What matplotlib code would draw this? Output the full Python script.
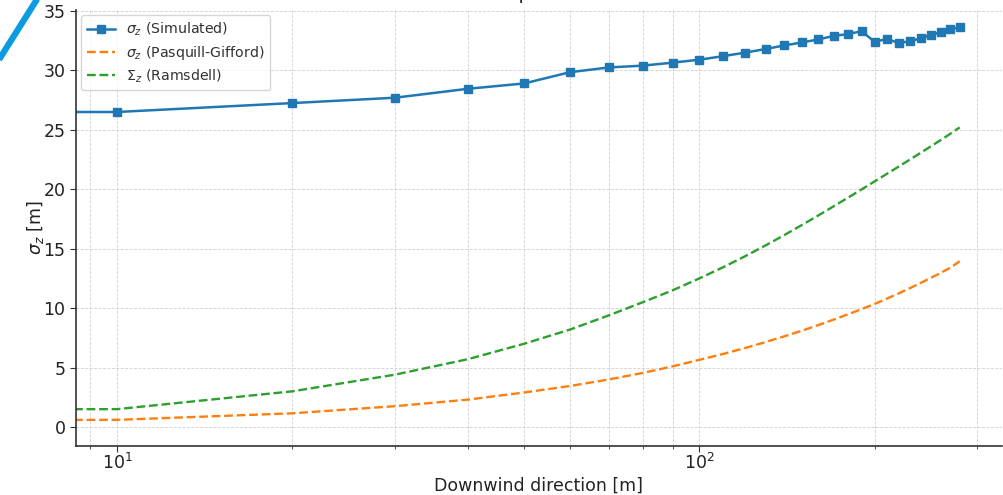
import matplotlib
matplotlib.use("Agg")
import matplotlib.pyplot as plt
from matplotlib.lines import Line2D

# Downwind distances [m] (first point 0 is clipped on the log axis)
distance = [0, 10, 20, 30, 40, 50, 60, 70, 80, 90, 100, 110, 120, 130, 140,
            150, 160, 170, 180, 190, 200, 210, 220, 230, 240, 250, 260, 270, 280]

sigma_sim = [26.5, 26.5, 27.25, 27.7, 28.45, 28.9, 29.85, 30.25, 30.4, 30.65,
             30.9, 31.2, 31.5, 31.8, 32.1, 32.35, 32.6, 32.9, 33.05, 33.3,
             32.4, 32.65, 32.3, 32.45, 32.7, 33.0, 33.2, 33.45, 33.65]

sigma_pg = [0.6, 0.6, 1.15, 1.75, 2.3, 2.9, 3.45, 4.0, 4.55, 5.1,
            5.65, 6.15, 6.65, 7.15, 7.63, 8.1, 8.57, 9.03, 9.48, 9.92,
            10.35, 10.8, 11.24, 11.68, 12.12, 12.55, 12.98, 13.4, 13.95]

sigma_rams = [1.5, 1.5, 3.0, 4.4, 5.7, 7.0, 8.2, 9.4, 10.5, 11.5,
              12.5, 13.45, 14.38, 15.28, 16.15, 16.99, 17.79, 18.56, 19.29, 19.99,
              20.66, 21.3, 21.91, 22.5, 23.07, 23.62, 24.15, 24.68, 25.2]

labels = [r"$\sigma_z$ (Simulated)", r"$\sigma_z$ (Pasquill-Gifford)",
          r"$\Sigma_z$ (Ramsdell)"]

plt.rcParams['font.family'] = ['DejaVu Sans']
fig = plt.figure(figsize=(10.04, 4.95), dpi=100)
ax = fig.add_axes([76/1004, 1-446/495, (1002-76)/1004, (446-10)/495])

ax.plot(distance, sigma_sim, color="#1f77b4", marker="s", markersize=6,
        linewidth=1.8, label=labels[0])
ax.plot(distance, sigma_pg, color="#ff7f0e", linestyle="--", linewidth=1.7,
        label=labels[1])
ax.plot(distance, sigma_rams, color="#2ca02c", linestyle="--", linewidth=1.7,
        label=labels[2])

ax.set_xscale("log")
ax.set_xlim(8.5, 331)
ax.set_ylim(-1.6, 35.08)
ax.set_yticks([0, 5, 10, 15, 20, 25, 30, 35])

ax.grid(True, which="both", linestyle="--", linewidth=0.6, color="#cccccc", alpha=0.9)
for s in ["top", "right"]:
    ax.spines[s].set_visible(False)
for s in ["left", "bottom"]:
    ax.spines[s].set_color("#333333")
    ax.spines[s].set_linewidth(1.2)
ax.tick_params(axis="both", which="major", labelsize=12.5, colors="#333333",
               labelcolor="#222222", length=4)
ax.tick_params(axis="x", which="major", pad=0.8)
ax.tick_params(axis="x", which="minor", length=2.5, colors="#333333")

ax.set_xlabel("Downwind direction [m]", fontsize=12.5, color="#222222", labelpad=3)
ax.set_ylabel(r"$\sigma_z$ [m]", fontsize=12.5, color="#222222", labelpad=-1.5)

leg = ax.legend(loc="upper left", fontsize=10.2, frameon=True, fancybox=True,
                bbox_to_anchor=(0.0, 1.0), borderaxespad=0.35,
                labelspacing=0.4)
leg.get_frame().set_edgecolor("#cccccc")
for t in leg.get_texts():
    t.set_color("#333333")

# title, mostly outside the cropped canvas
fig.text(533/1004, 1 + 1.5/495, "Comparison", ha="center", va="baseline",
         fontsize=14, color="#222222")

# decorative blue stroke in the upper-left corner
fig.add_artist(Line2D([-0.005, 0.038], [1 - 66/495, 1.005], transform=fig.transFigure,
                      color="#0a9be0", linewidth=4.5, solid_capstyle="butt"))

fig.savefig("out.png", dpi=100)
